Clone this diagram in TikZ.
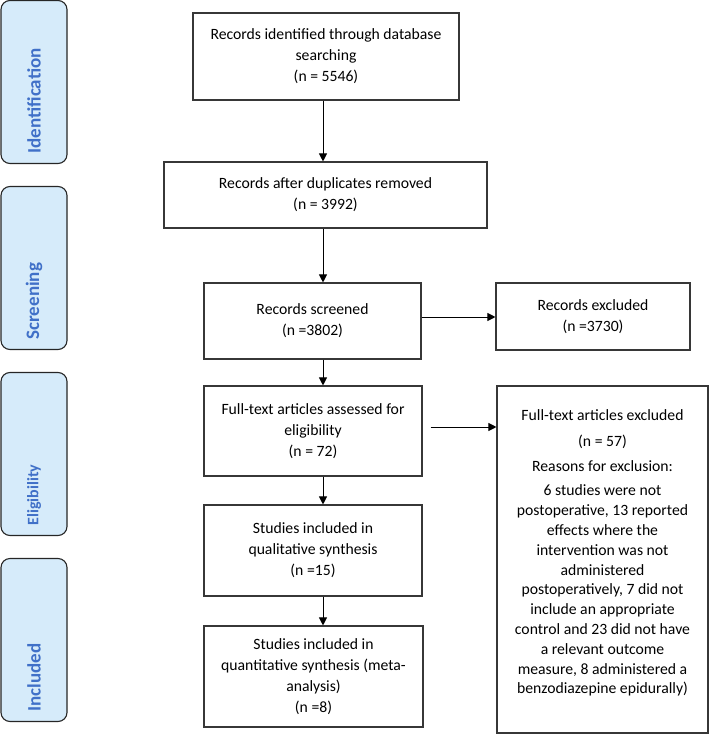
\documentclass[tikz,border=0pt]{standalone}
\usepackage{fontspec}
\setmainfont{Carlito}
\usetikzlibrary{arrows.meta}
\definecolor{sidefill}{RGB}{214,235,250}
\definecolor{sidetext}{RGB}{64,112,200}
\definecolor{boxline}{RGB}{55,55,55}
\begin{document}
\begin{tikzpicture}[x=1pt,y=-1pt,
  mbox/.style={draw=boxline, line width=1.1pt, align=center, inner sep=0pt,
    font=\fontsize{15.7}{21}\selectfont},
  sidebox/.style={draw=black!85, line width=1.1pt, fill=sidefill, rounded corners=9pt,
    rotate=90, minimum width=163pt, minimum height=66pt, inner xsep=10pt, inner ysep=0pt,
    text width=143pt, align=left, text=sidetext},
  arr/.style={line width=1pt, -{Triangle[length=8pt,width=8pt]}}]
\useasboundingbox (0,0) rectangle (710,746);
% phase labels
\node[sidebox, font=\fontsize{19}{22}\bfseries] (sid) at (34,82) {Identification};
\node[sidebox, font=\fontsize{19}{22}\bfseries] (ssc) at (34,268) {Screening};
\node[sidebox, font=\fontsize{16}{20}\bfseries] (sel) at (34,454) {Eligibility};
\node[sidebox, font=\fontsize{19}{22}\bfseries] (sin) at (34,640) {Included};
% main boxes
\node[mbox, minimum width=266pt, minimum height=87pt] (b1) at (326,56.5)
  {Records identified through database\\searching\\(n = 5546)};
\node[mbox, minimum width=323pt, minimum height=66pt] (b2) at (325.5,195)
  {Records after duplicates removed\\(n = 3992)};
\node[mbox, minimum width=217pt, minimum height=76pt] (b3) at (312.5,321)
  {Records screened\\(n =3802)};
\node[mbox, minimum width=194pt, minimum height=67pt] (b4) at (593,316.5)
  {Records excluded\\(n =3730)};
\node[mbox, minimum width=218pt, minimum height=90pt] (b5) at (313,431)
  {Full-text articles assessed for\\eligibility\\(n = 72)};
\node[mbox, minimum width=218pt, minimum height=91pt] (b6) at (313,550.5)
  {Studies included in\\qualitative synthesis\\(n =15)};
\node[mbox, minimum width=219pt, minimum height=101pt] (b8) at (313.5,676.5)
  {Studies included in\\quantitative synthesis (meta-\\analysis)\\(n =8)};
\node[mbox, minimum width=211pt, minimum height=347pt] (b7) at (602.5,559.5) {};
\node[align=center, inner sep=0pt, anchor=north, font=\fontsize{15.7}{19.8}\selectfont]
  (b7t) at ([yshift=-24pt]b7.north)
  {Full-text articles excluded\\[6pt](n = 57)\\[5pt]Reasons for exclusion:\\[5pt]
   6 studies were not\\postoperative, 13 reported\\effects where the\\intervention was not\\administered\\postoperatively, 7 did not\\include an appropriate\\control and 23 did not have\\a relevant outcome\\measure, 8 administered a\\benzodiazepine epidurally)};
% connectors
\coordinate (ax) at (323,0);
\coordinate (r1) at (0,317);
\coordinate (r2) at (0,427);
\draw[arr] (b1.south -| ax) -- (b2.north -| ax);
\draw[arr] (b2.south -| ax) -- (b3.north -| ax);
\draw[arr] (b3.south -| ax) -- (b5.north -| ax);
\draw[arr] (b5.south -| ax) -- (b6.north -| ax);
\draw[arr] (b6.south -| ax) -- (b8.north -| ax);
\draw[arr] (b3.east |- r1) -- (b4.west |- r1);
\draw[arr, shorten <=8pt] (b5.east |- r2) -- (b7.west |- r2);
\end{tikzpicture}
\end{document}
